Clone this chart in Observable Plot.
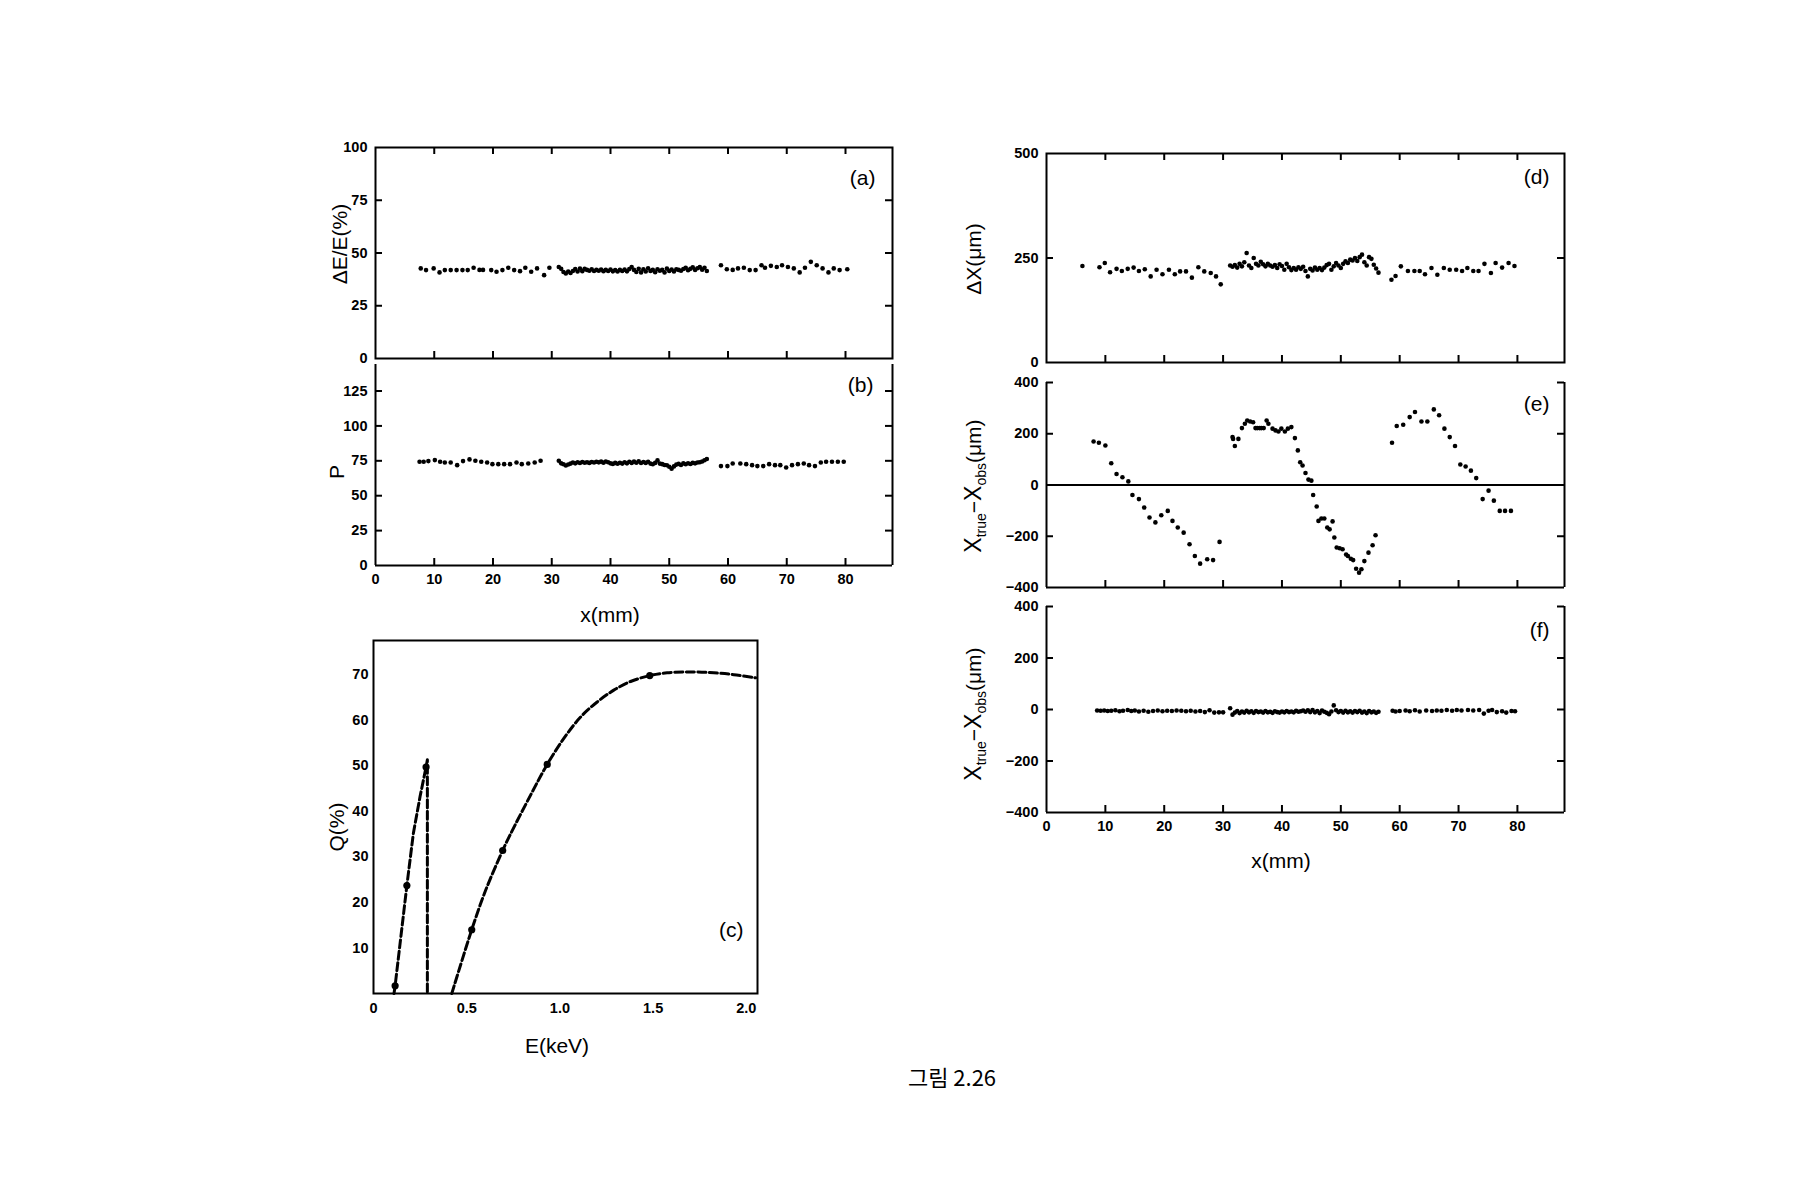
<!DOCTYPE html>
<html><head><meta charset="utf-8">
<script src="https://cdn.jsdelivr.net/npm/d3@7"></script>
<script src="https://cdn.jsdelivr.net/npm/@observablehq/plot@0.6"></script>
<style>
html,body{margin:0;padding:0;background:#fff;}
#fig{position:relative;width:1800px;height:1200px;background:#fff;overflow:hidden;font-family:"Liberation Sans",Arial,sans-serif;color:#000;}
#fig svg{position:absolute;overflow:visible;}
.t{position:absolute;white-space:nowrap;transform:translate(-50%,-50%);font-size:21px;line-height:1;}
.r{transform:translate(-50%,-50%) rotate(-90deg);}
.t sub{font-size:14px;vertical-align:-5px;}
.big{font-size:23px;}
</style></head><body><div id="fig"></div>
<script>
// ---------- shared ----------
const xTicks = [10, 20, 30, 40, 50, 60, 70, 80];
const xLabels = [0, 10, 20, 30, 40, 50, 60, 70, 80];
const xMid = [31.2,31.6,32.0,32.4,32.8,33.2,33.6,34.0,34.4,34.8,35.2,35.6,36.0,36.4,36.8,37.2,37.6,38.0,38.4,38.8,39.2,39.6,40.0,40.4,40.8,41.2,41.6,42.0,42.4,42.8,43.2,43.6,44.0,44.4,44.8,45.2,45.6,46.0,46.4,46.8,47.2,47.6,48.0,48.4,48.8,49.2,49.6,50.0,50.4,50.8,51.2,51.6,52.0,52.4,52.8,53.2,53.6,54.0,54.4,54.8,55.2,55.6,56.0,56.4];

// ---------- (a) dE/E ----------
const aX1 = [7.7,8.6,9.9,10.9,11.8,12.8,13.8,14.8,15.7,16.7,17.7,18.3,19.7,20.6,21.6,22.6,23.6,24.6,25.5,26.5,27.5,28.7,29.6];
const aY1 = [42.7,41.9,42.7,40.8,41.9,41.9,41.9,41.9,41.9,43.0,42.0,42.0,41.9,41.1,41.9,43.0,41.9,41.4,43.0,41.1,42.7,39.5,43.0];
const aY2 = [43.4,42.5,41.0,40.3,41.2,40.5,41.5,42.4,41.2,42.6,41.4,42.5,42.0,41.6,42.3,41.5,42.0,41.6,42.2,41.4,42.0,41.5,42.2,41.3,41.9,41.2,42.0,41.5,42.1,41.3,42.4,43.4,42.0,41.0,42.5,40.8,42.3,41.2,42.8,41.5,42.0,40.9,42.3,41.6,42.0,40.8,42.6,41.5,42.2,41.2,42.3,42.0,41.6,42.4,43.0,41.8,42.5,43.2,42.0,42.8,43.3,42.1,43.0,41.5];
const aX3 = [58.8,59.8,60.8,61.7,62.7,63.7,64.7,65.7,66.3,67.3,68.3,69.2,70.2,71.2,72.2,73.1,74.1,75.1,76.1,77.1,78.0,79.0,80.3];
const aY3 = [44.2,42.3,42.0,42.7,43.0,41.9,41.9,44.2,43.0,43.9,43.4,44.2,43.4,42.7,40.8,43.0,45.8,44.2,42.7,40.8,42.7,41.9,42.3];
const aYTicks = [0, 25, 50, 75, 100];

// ---------- (b) P ----------
const bX1 = [7.5,8.2,9.0,10.1,11.0,11.8,12.8,13.9,14.9,16.0,17.0,18.0,19.0,19.9,20.9,21.9,22.9,24.0,24.9,26.0,27.1,28.1];
const bY1 = [74.3,74.3,74.8,75.5,74.3,73.8,73.8,71.9,74.8,76.0,75.0,74.3,73.8,72.6,72.6,72.6,72.6,73.8,72.6,73.1,73.8,75.0];
const bY2 = [75.0,73.2,72.5,71.6,72.4,73.0,73.8,73.2,74.0,73.4,74.2,73.6,74.0,73.5,74.2,73.8,74.3,73.9,74.4,73.7,74.5,74.0,73.2,72.8,73.5,72.9,73.6,73.0,74.0,73.2,74.3,73.5,74.4,73.6,74.6,73.4,74.2,73.5,74.3,73.0,72.5,73.5,75.3,73.0,72.6,72.0,71.8,70.8,69.4,71.0,72.3,72.8,72.0,73.2,72.5,73.3,72.7,73.5,73.2,73.8,74.0,74.5,75.4,76.3];
const bX3 = [58.8,59.9,60.8,62.1,63.1,64.1,65.0,66.0,67.0,68.0,68.9,69.9,70.9,71.9,72.9,73.8,74.8,75.8,76.7,77.7,78.7,79.7];
const bY3 = [71.2,71.2,73.1,73.1,72.6,71.9,71.2,71.2,72.6,71.9,71.9,70.2,71.9,72.6,73.1,71.9,71.2,73.8,74.3,74.3,74.3,74.3];
const bYTicks = [0, 25, 50, 75, 100, 125];

// ---------- (c) Q vs E ----------
const cMarkE = [0.116, 0.179, 0.282, 0.527, 0.693, 0.932, 1.482];
const cMarkQ = [1.7, 23.7, 49.7, 14.0, 31.4, 50.3, 69.8];
const cLine1E = [0.11, 0.116, 0.179, 0.214, 0.25, 0.282, 0.289, 0.289];
const cLine1Q = [0, 1.7, 23.7, 35.2, 43.3, 49.7, 51.3, 0];
const cLine2E = [0.42, 0.527, 0.60, 0.693, 0.735, 0.842, 0.932, 1.021, 1.111, 1.2, 1.289, 1.379, 1.482, 1.575, 1.70, 1.826, 1.933, 2.05];
const cLine2Q = [0, 14.0, 22.5, 31.4, 35.0, 43.5, 50.3, 56.0, 60.7, 64.0, 66.6, 68.5, 69.8, 70.4, 70.6, 70.4, 70.0, 69.3];
const cYTicks = [10, 20, 30, 40, 50, 60, 70];
const cXTicks = [0, 0.5, 1.0, 1.5, 2.0];

// ---------- (d) dX ----------
const dX1 = [6.1,9.0,9.9,10.8,11.9,12.8,13.8,14.8,15.7,16.7,17.7,18.7,19.7,20.8,21.8,22.7,23.7,24.7,25.8,26.8,27.9,28.8,29.6];
const dY1 = [231,228,238,216,224,219,224,227,219,223,206,222,211,222,211,218,218,203,228,218,214,206,187];
const dY2 = [232,229,233,227,236,230,240,262,232,226,250,236,232,241,235,230,236,232,229,233,226,235,231,222,236,228,221,226,222,228,224,229,219,206,224,220,227,222,226,221,227,233,236,222,230,238,232,226,236,242,238,246,244,250,243,252,258,240,232,252,248,234,225,215];
const dX3 = [58.6,59.3,60.2,61.4,62.5,63.4,64.3,65.4,66.4,67.5,68.5,69.6,70.6,71.5,72.5,73.4,74.4,75.5,76.3,77.4,78.5,79.5];
const dY3 = [198,207,230,219,219,219,211,226,210,226,222,222,219,226,219,219,236,214,238,227,238,231];
const dYTicks = [0, 250, 500];

// ---------- (e) Xtrue - Xobs before correction ----------
const eX1 = [8.0,8.9,10.0,11.0,11.9,12.9,13.9,14.6,15.7,16.6,17.5,18.5,19.5,20.6,21.4,22.3,23.3,24.3,25.2,26.1,27.3,28.3,29.4];
const eY1 = [170,165,154,85,43,30,14,-39,-55,-88,-127,-146,-118,-101,-140,-166,-186,-231,-277,-307,-290,-293,-222];
const eX2 = [31.6,31.7,32.0,32.6,33.2,33.7,34.1,34.6,35.1,35.5,35.8,36.2,36.5,36.9,37.4,37.7,38.4,38.9,39.4,39.9,40.5,41.0,41.6,42.2,42.7,43.1,43.5,44.0,44.5,45.0,45.3,45.9,46.2,46.7,47.2,47.7,48.1,48.6,48.9,49.3,49.8,50.3,50.9,51.2,51.7,52.1,52.6,53.1,53.5,54.0,54.7,55.4,55.9];
const eY2 = [187,180,152,180,222,239,252,248,245,222,222,222,222,222,252,239,220,213,209,220,209,220,226,183,135,89,76,47,21,17,-39,-84,-140,-131,-131,-166,-173,-142,-205,-244,-247,-251,-271,-277,-288,-293,-327,-342,-329,-297,-264,-235,-196];
const eX3 = [58.7,59.5,60.6,61.7,62.6,63.7,64.7,65.8,66.7,67.6,68.5,69.4,70.3,71.2,72.1,73.0,74.1,75.1,76.0,77.0,77.9,78.9];
const eY3 = [165,230,235,265,285,248,248,295,272,220,187,152,80,72,56,27,-55,-22,-61,-101,-101,-101];
const resYTicks = [-400, -200, 0, 200, 400];

// ---------- (f) Xtrue - Xobs after correction ----------
const fX1 = [8.6,9.2,9.8,10.4,11.0,11.7,12.4,13.0,13.8,14.4,15.0,15.7,16.5,17.3,18.1,18.9,19.7,20.5,21.3,22.1,22.9,23.7,24.5,25.3,26.1,26.9,27.7,28.5,29.3,30.0];
const fY1 = [-4,-5,-4,-6,-5,-3,-7,-5,-2,-6,-4,-8,-5,-9,-6,-4,-7,-5,-6,-4,-5,-7,-5,-8,-6,-10,-3,-12,-11,-11];
const fY2 = [5,-20,-12,-6,-14,-8,-12,-5,-11,-7,-13,-6,-10,-8,-12,-6,-11,-9,-13,-7,-10,-12,-8,-11,-6,-10,-8,-11,-5,-9,-7,-4,-9,-3,-10,-2,-11,-6,-14,-4,-9,-13,-18,-8,16,-3,-10,-6,-12,-5,-11,-7,-12,-6,-10,-5,-12,-8,-14,-6,-11,-8,-13,-9];
const fX3 = [58.8,59.3,60.0,61.0,61.7,62.6,63.4,64.5,65.5,66.3,67.1,68.0,68.9,69.7,70.5,71.6,72.5,73.5,74.3,75.1,75.7,76.5,77.4,78.1,79.0,79.6];
const fY3 = [-5,-8,-6,-4,-7,-3,-8,-4,-6,-4,-5,-2,-5,-2,-4,-2,-4,-2,-16,-5,-2,-10,-7,-12,-6,-7];

// ---------- helpers ----------
const fig = document.getElementById("fig");
const TICKFONT = "'Liberation Sans',Arial,sans-serif";
const TL = 7;    // inward tick length
const SW = 2;

function panel({L, T, R, B, x, y, marks}) {
  const m = {l: 70, r: 20, t: 20, b: 40};
  const p = Plot.plot({
    width: (R - L) + m.l + m.r,
    height: (B - T) + m.t + m.b,
    marginLeft: m.l, marginRight: m.r, marginTop: m.t, marginBottom: m.b,
    x, y,
    style: {fontFamily: TICKFONT, fontWeight: "bold", fontSize: "14.5px", background: "transparent", color: "#000", overflow: "visible"},
    marks: typeof marks === "function" ? marks(R - L, B - T) : marks
  });
  p.style.left = (L - m.l) + "px";
  p.style.top = (T - m.t) + "px";
  fig.appendChild(p);
}
// inward tick marks
const tLeft   = (v, W) => Plot.tickY(v, {y: d => d, insetRight: W - TL, strokeWidth: SW});
const tRight  = (v, W) => Plot.tickY(v, {y: d => d, insetLeft: W - TL, strokeWidth: SW});
const tTop    = (v, H) => Plot.tickX(v, {x: d => d, insetBottom: H - TL, strokeWidth: SW});
const tBottom = (v, H) => Plot.tickX(v, {x: d => d, insetTop: H - TL, strokeWidth: SW});
function dots(xs, ys) {
  return Plot.dot(ys, {x: xs, y: ys, r: 2.3, fill: "black"});
}
function tag(s, frameAnchor, dx, dy) {
  return Plot.text([s], {frameAnchor, dx, dy, text: d => d, textAnchor: "end", lineAnchor: "middle",
    fontSize: 21, fontFamily: "'Liberation Sans',Arial,sans-serif", fontWeight: "normal", fill: "black"});
}
const X = {domain: [0, 88]};

// (a)
panel({L: 375, T: 147, R: 892, B: 358, x: X, y: {domain: [0, 100]}, marks: (W, H) => [
  Plot.frame({strokeWidth: SW}),
  Plot.axisY(aYTicks, {anchor: "left", tickSize: 0, tickPadding: 8, label: null}),
  Plot.axisX([], {anchor: "bottom", tickSize: 0, label: null}),
  tLeft([25, 50, 75], W), tRight([25, 50, 75], W),
  tTop(xTicks, H), tBottom(xTicks, H),
  dots(aX1, aY1), dots(xMid, aY2), dots(aX3, aY3),
  tag("(a)", "top-right", -17, 31)
]});

// (b)
panel({L: 375, T: 364, R: 892, B: 565, x: X, y: {domain: [0, 144]}, marks: (W, H) => [
  Plot.ruleX([0, 88], {strokeWidth: SW}),
  Plot.ruleY([0], {strokeWidth: SW}),
  Plot.axisY(bYTicks, {anchor: "left", tickSize: 0, tickPadding: 8, label: null}),
  Plot.axisX(xLabels, {anchor: "bottom", tickSize: 0, tickPadding: 8, label: null}),
  tLeft([25, 50, 75, 100, 125], W), tRight([25, 50, 75, 100, 125], W),
  tBottom(xTicks, H),
  dots(bX1, bY1), dots(xMid, bY2), dots(bX3, bY3),
  tag("(b)", "top-right", -19, 21)
]});

// (c)
panel({L: 373, T: 640, R: 757, B: 993, x: {domain: [0, 2.06]}, y: {domain: [0, 77.5]}, marks: [
  Plot.frame({strokeWidth: SW}),
  Plot.axisY(cYTicks, {anchor: "left", tickSize: 0, tickPadding: 5, label: null}),
  Plot.axisX(cXTicks, {anchor: "bottom", tickSize: 0, tickPadding: 9, label: null, tickFormat: d => d === 0 ? "0" : d.toFixed(1)}),
  Plot.line(cLine1Q, {x: cLine1E, y: cLine1Q, stroke: "black", strokeWidth: 3, strokeDasharray: "8,3.5"}),
  Plot.line(cLine2Q, {x: cLine2E, y: cLine2Q, stroke: "black", strokeWidth: 3, strokeDasharray: "8,3.5", curve: "catmull-rom"}),
  Plot.dot(cMarkQ, {x: cMarkE, y: cMarkQ, r: 3.6, fill: "black"}),
  tag("(c)", "bottom-right", -14, -63)
]});

// (d)
panel({L: 1046, T: 153, R: 1564, B: 362, x: X, y: {domain: [0, 500]}, marks: (W, H) => [
  Plot.frame({strokeWidth: SW}),
  Plot.axisY(dYTicks, {anchor: "left", tickSize: 0, tickPadding: 8, label: null}),
  Plot.axisX([], {anchor: "bottom", tickSize: 0, label: null}),
  tLeft([250], W), tRight([250], W),
  tTop(xTicks, H), tBottom(xTicks, H),
  dots(dX1, dY1), dots(xMid, dY2), dots(dX3, dY3),
  tag("(d)", "top-right", -15, 24)
]});

// (e)
panel({L: 1046, T: 382, R: 1564, B: 587, x: X, y: {domain: [-400, 400]}, marks: (W, H) => [
  Plot.ruleX([0, 88], {strokeWidth: SW}),
  Plot.ruleY([-400], {strokeWidth: SW}),
  Plot.ruleY([0], {strokeWidth: SW}),
  Plot.axisY(resYTicks, {anchor: "left", tickSize: 0, tickPadding: 8, label: null}),
  Plot.axisX([], {anchor: "bottom", tickSize: 0, label: null}),
  tLeft([-200, 200, 400], W), tRight([-200, 200, 400], W),
  tBottom(xTicks, H),
  dots(eX1, eY1), dots(eX2, eY2), dots(eX3, eY3),
  tag("(e)", "top-right", -15, 22)
]});

// (f)
panel({L: 1046, T: 606, R: 1564, B: 812, x: X, y: {domain: [-400, 400]}, marks: (W, H) => [
  Plot.ruleX([0, 88], {strokeWidth: SW}),
  Plot.ruleY([-400], {strokeWidth: SW}),
  Plot.axisY(resYTicks, {anchor: "left", tickSize: 0, tickPadding: 8, label: null}),
  Plot.axisX(xLabels, {anchor: "bottom", tickSize: 0, tickPadding: 8, label: null}),
  tLeft([-200, 0, 200, 400], W), tRight([-200, 0, 200, 400], W),
  tBottom(xTicks, H),
  dots(fX1, fY1), dots(xMid, fY2), dots(fX3, fY3),
  tag("(f)", "top-right", -15, 24)
]});

// ---------- titles ----------
function title(html, cx, cy, cls) {
  const d = document.createElement("div");
  d.className = "t" + (cls ? " " + cls : "");
  d.style.left = cx + "px";
  d.style.top = cy + "px";
  d.innerHTML = html;
  fig.appendChild(d);
}
title("ΔE/E(%)", 339, 244, "r");
title("P", 336, 472, "r");
title("x(mm)", 610, 614);
title("Q(%)", 336, 827, "r");
title("E(keV)", 557, 1045);
title("ΔX(μm)", 973, 259, "r");
title("<span class='big'>X</span><sub>true</sub>−<span class='big'>X</span><sub>obs</sub>(μm)", 975, 486, "r");
title("<span class='big'>X</span><sub>true</sub>−<span class='big'>X</span><sub>obs</sub>(μm)", 975, 714, "r");
title("x(mm)", 1281, 860);
const cap = document.createElement("div");
cap.className = "t";
cap.style.left = "952px"; cap.style.top = "1076px";
cap.style.fontFamily = "'Noto Sans CJK KR',sans-serif";
cap.style.fontSize = "22px";
cap.textContent = "그림 2.26";
fig.appendChild(cap);
</script>
</body></html>
